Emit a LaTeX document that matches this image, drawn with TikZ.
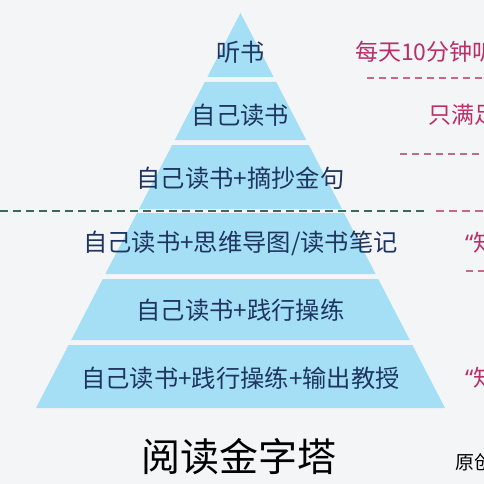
\documentclass[tikz,border=0pt]{standalone}
\usepackage{fontspec}
\setmainfont{Noto Sans CJK SC}
\newfontfamily\quotefont{Noto Sans}
\definecolor{bgcol}{HTML}{F4F5F7}
\definecolor{layerblue}{HTML}{A5DFF5}
\definecolor{navy}{HTML}{1E3560}
\definecolor{rosered}{HTML}{B8306A}
\definecolor{darkgreen}{HTML}{3A6B58}
\definecolor{rosedash}{HTML}{C26A88}
\tikzset{
  layer/.style={fill=layerblue},
  lvltext/.style={text=navy, font=\fontsize{24.3}{26}\selectfont, inner sep=0pt},
  note/.style={text=rosered, font=\fontsize{23}{25}\selectfont, inner sep=0pt, anchor=west},
  sep/.style={dashed, dash pattern=on 8pt off 5pt, line width=2pt},
}
\begin{document}
\begin{tikzpicture}[x=1pt, y=-1pt]
  % canvas 484 x 484, clipped like the cropped screenshot
  \useasboundingbox (0,0) rectangle (484,484);
  \clip (0,0) rectangle (484,484);
  \fill[bgcol] (0,0) rectangle (484,484);

  % pyramid layers: apex (240.5,13), base half width 204.5 at y=408
  \pgfmathsetmacro{\k}{204.5/395}
  \foreach \t/\b in {13/77,82/140,145/209,213/274,279/340,345/408} {
    \fill[layer] ({240.5-(\t-13)*\k},\t) -- ({240.5+(\t-13)*\k},\t)
      -- ({240.5+(\b-13)*\k},\b) -- ({240.5-(\b-13)*\k},\b) -- cycle;
  }

  % level labels
  \node[lvltext] (l1) at (240.5,52) {听书};
  \node[lvltext] (l2) at (240.5,115) {自己读书};
  \node[lvltext] (l3) at (240.5,178) {自己读书+摘抄金句};
  \node[lvltext] (l4) at (240.5,243) {自己读书+思维导图/读书笔记};
  \node[lvltext] (l5) at (240.5,310) {自己读书+践行操练};
  \node[lvltext] (l6) at (240.5,378) {自己读书+践行操练+输出教授};

  % dividing line between passive and active reading
  \coordinate (dl) at (0,211);
  \coordinate (dm) at (428,211);
  \coordinate (dn) at (436,211);
  \coordinate (dr) at (484,211);
  \draw[sep, darkgreen] (dl) -- (dm);
  \draw[sep, rosedash] (dn) -- (dr);

  % notes on the right, running off the edge
  \node[note] (n1) at (355,52) {每天10分钟听书};
  \node[note] (n2) at (428,115) {只满足};
  \node[note] (n3) at (465,243) {{\quotefont “}知};
  \node[note] (n4) at (465,378) {{\quotefont “}知};
  \coordinate (a1) at (367,78);  \coordinate (b1) at (484,78);
  \coordinate (a2) at (400,154); \coordinate (b2) at (484,154);
  \coordinate (a3) at (466,271); \coordinate (b3) at (484,271);
  \foreach \a/\b in {a1/b1,a2/b2,a3/b3}
    \draw[rosedash, dashed, dash pattern=on 7pt off 5pt, line width=1.4pt] (\a) -- (\b);

  % title and source mark
  \node[font=\fontsize{39}{41}\selectfont, inner sep=0pt] (title) at (239,457) {阅读金字塔};
  \node[font=\fontsize{19}{21}\selectfont, inner sep=0pt, anchor=west] (src) at (455,462) {原创};
\end{tikzpicture}
\end{document}
